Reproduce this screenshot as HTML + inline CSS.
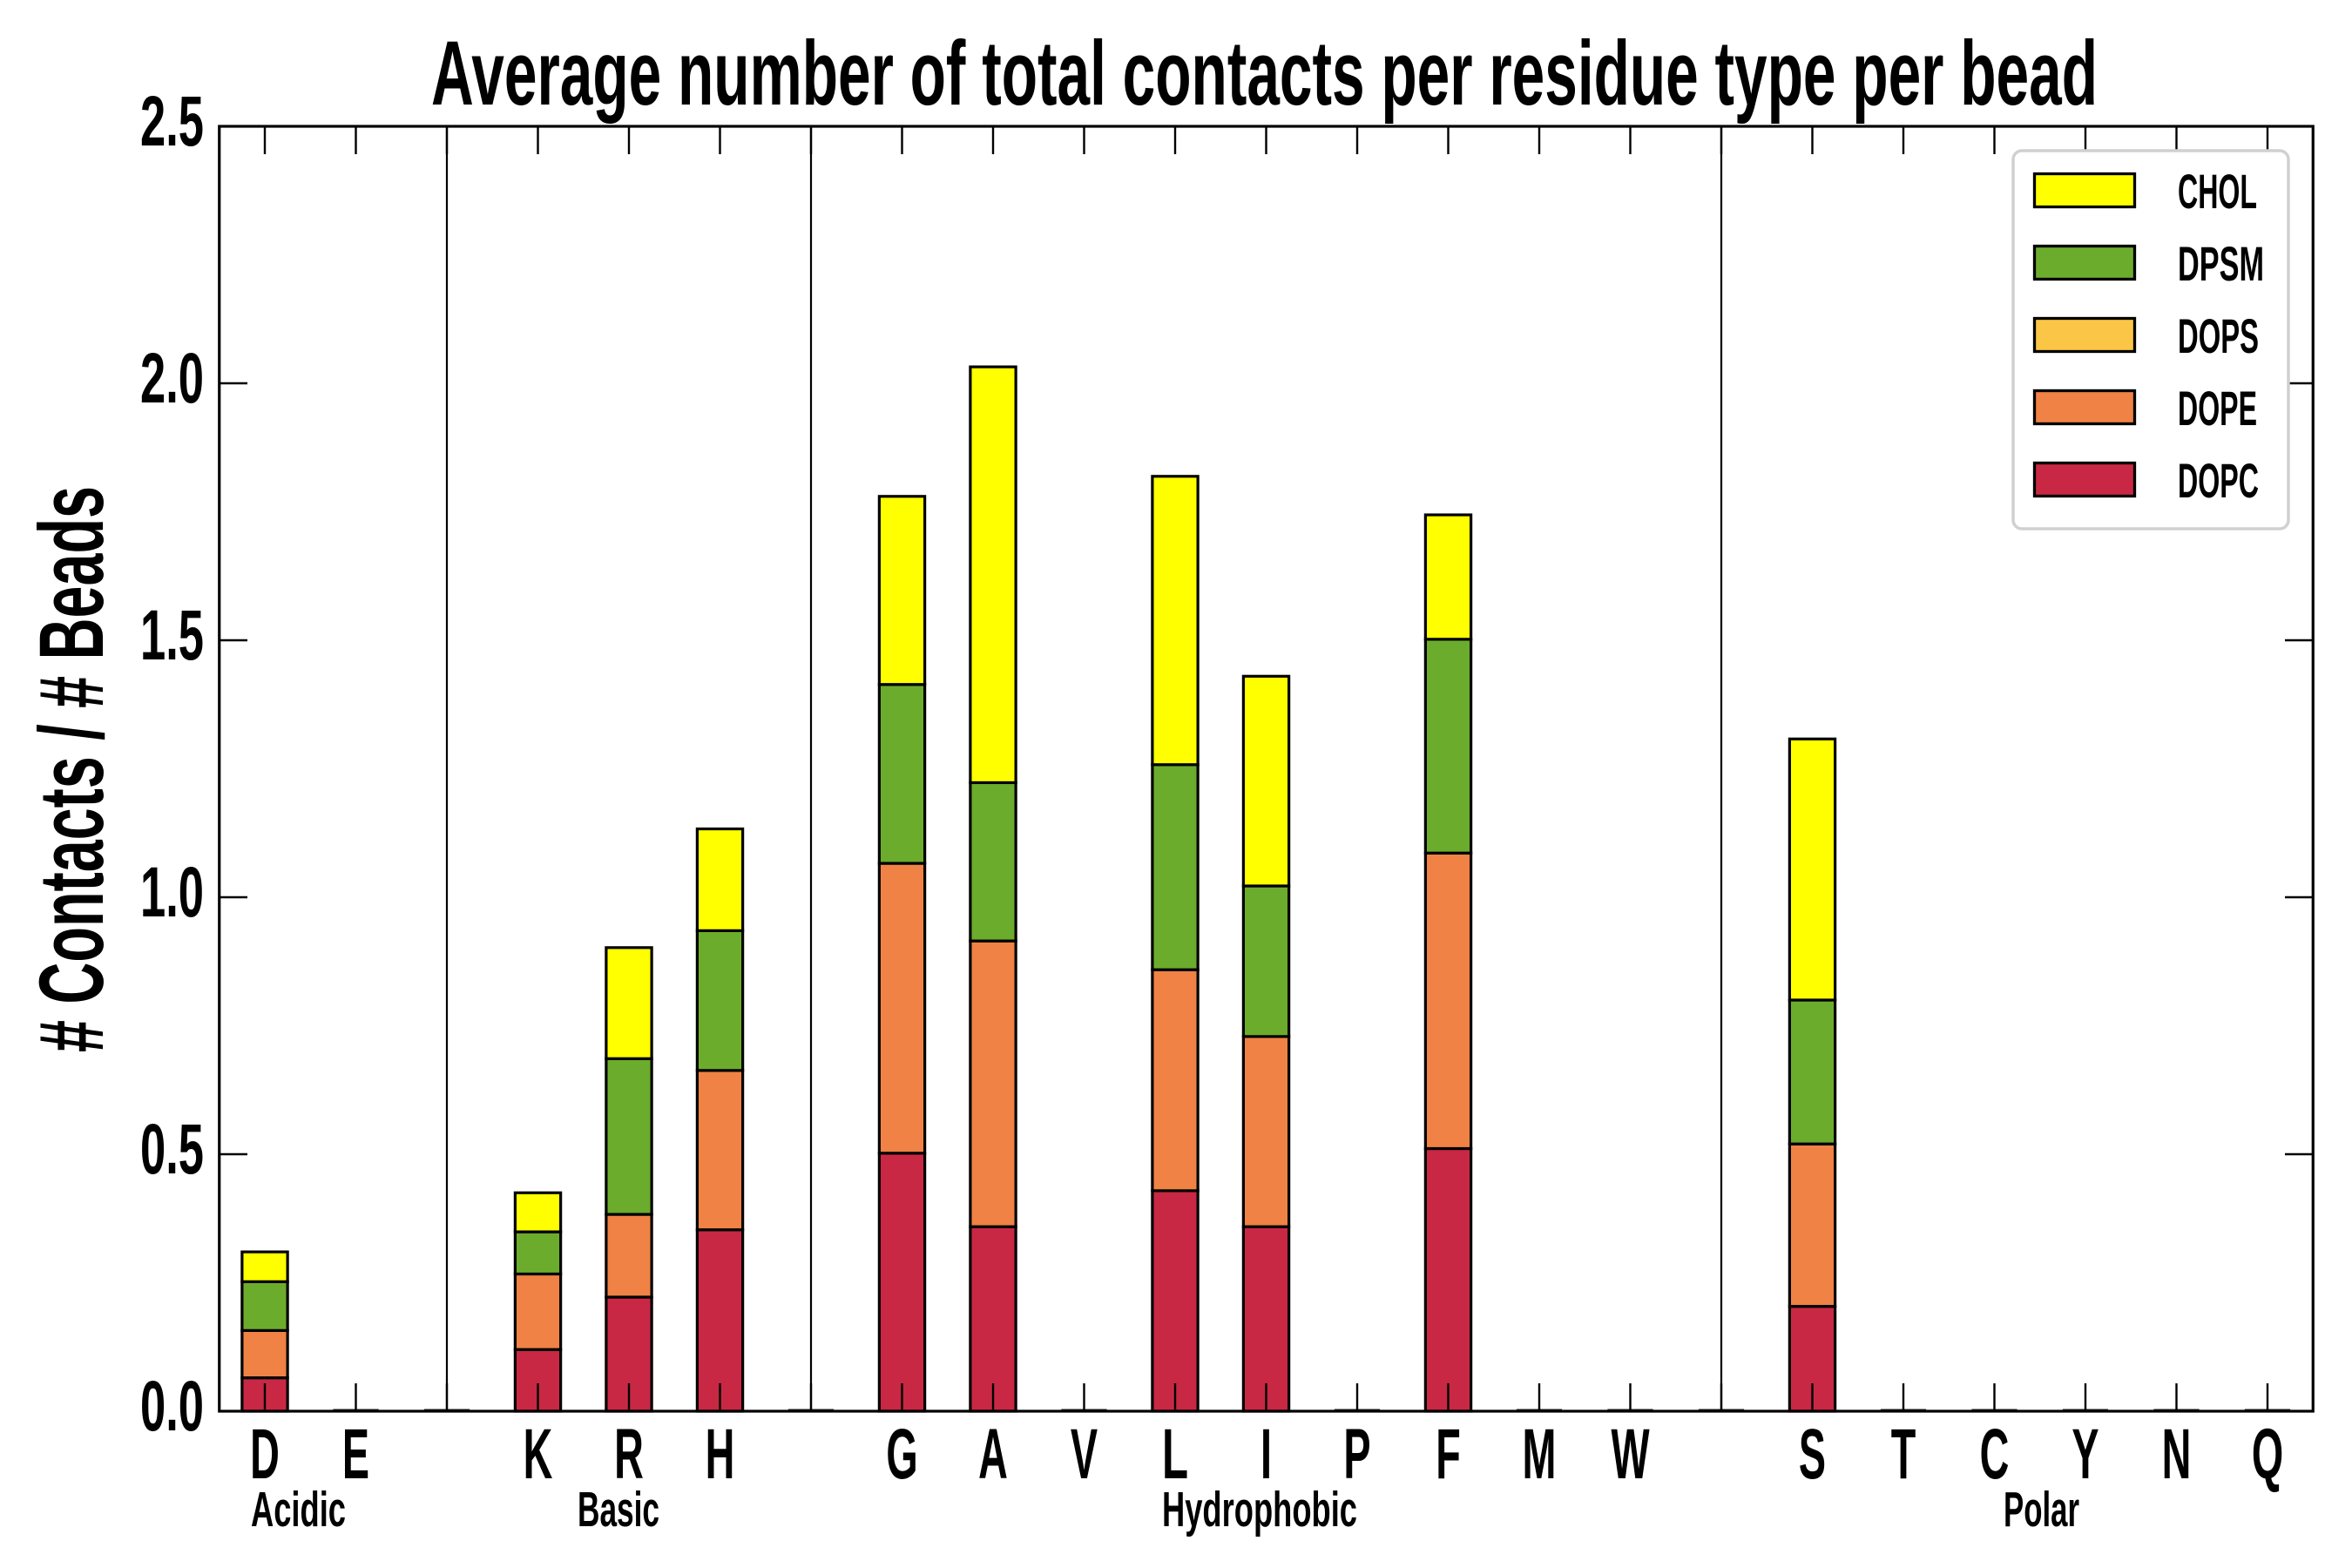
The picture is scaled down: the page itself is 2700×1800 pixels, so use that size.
<!DOCTYPE html>
<html>
<head>
<meta charset="utf-8">
<style>
html,body{margin:0;padding:0;background:#fff;}
body{width:2700px;height:1800px;overflow:hidden;}
svg{display:block;}
text{font-family:"Liberation Sans",Arial,sans-serif;font-weight:bold;fill:#000;}
</style>
</head>
<body>
<svg width="2700" height="1800" viewBox="0 0 2700 1800" xmlns="http://www.w3.org/2000/svg">
<rect x="0" y="0" width="2700" height="1800" fill="#fff"/>

<!-- Title -->
<text x="495" y="120" font-size="105" textLength="1913" lengthAdjust="spacingAndGlyphs">Average number of total contacts per residue type per bead</text>

<!-- Y label -->
<g transform="translate(118,1208) rotate(-90)">
<text x="0" y="0" font-size="105" textLength="650" lengthAdjust="spacingAndGlyphs"># Contacts / # Beads</text>
</g>

<!-- zero-height bars -->
<g stroke="#222" stroke-width="3">
<line x1="382.375" x2="434.625" y1="1619" y2="1619"/>
<line x1="486.875" x2="539.125" y1="1619" y2="1619"/>
<line x1="904.875" x2="957.125" y1="1619" y2="1619"/>
<line x1="1218.375" x2="1270.625" y1="1619" y2="1619"/>
<line x1="1531.875" x2="1584.125" y1="1619" y2="1619"/>
<line x1="1740.875" x2="1793.125" y1="1619" y2="1619"/>
<line x1="1845.375" x2="1897.625" y1="1619" y2="1619"/>
<line x1="1949.875" x2="2002.125" y1="1619" y2="1619"/>
<line x1="2158.875" x2="2211.125" y1="1619" y2="1619"/>
<line x1="2263.375" x2="2315.625" y1="1619" y2="1619"/>
<line x1="2367.875" x2="2420.125" y1="1619" y2="1619"/>
<line x1="2472.375" x2="2524.625" y1="1619" y2="1619"/>
<line x1="2576.875" x2="2629.125" y1="1619" y2="1619"/>
</g>

<!-- Bars -->
<g stroke="#000" stroke-width="3.2">
<!-- D -->
<rect x="277.875" width="52.25" y="1581.65" height="38.35" fill="#c82843"/>
<rect x="277.875" width="52.25" y="1527.37" height="54.28" fill="#ef8244"/>
<rect x="277.875" width="52.25" y="1471.32" height="56.05" fill="#6cac2c"/>
<rect x="277.875" width="52.25" y="1437.1" height="34.22" fill="#ffff00"/>
<!-- K -->
<rect x="591.375" width="52.25" y="1549.2" height="70.8" fill="#c82843"/>
<rect x="591.375" width="52.25" y="1462.47" height="86.73" fill="#ef8244"/>
<rect x="591.375" width="52.25" y="1414.09" height="48.38" fill="#6cac2c"/>
<rect x="591.375" width="52.25" y="1369.25" height="44.84" fill="#ffff00"/>
<!-- R -->
<rect x="695.875" width="52.25" y="1489.02" height="130.98" fill="#c82843"/>
<rect x="695.875" width="52.25" y="1394.03" height="94.99" fill="#ef8244"/>
<rect x="695.875" width="52.25" y="1215.26" height="178.77" fill="#6cac2c"/>
<rect x="695.875" width="52.25" y="1087.82" height="127.44" fill="#ffff00"/>
<!-- H -->
<rect x="800.375" width="52.25" y="1411.73" height="208.27" fill="#c82843"/>
<rect x="800.375" width="52.25" y="1228.83" height="182.9" fill="#ef8244"/>
<rect x="800.375" width="52.25" y="1068.35" height="160.48" fill="#6cac2c"/>
<rect x="800.375" width="52.25" y="951.53" height="116.82" fill="#ffff00"/>
<!-- G -->
<rect x="1009.375" width="52.25" y="1323.82" height="296.18" fill="#c82843"/>
<rect x="1009.375" width="52.25" y="991.06" height="332.76" fill="#ef8244"/>
<rect x="1009.375" width="52.25" y="785.74" height="205.32" fill="#6cac2c"/>
<rect x="1009.375" width="52.25" y="569.8" height="215.94" fill="#ffff00"/>
<!-- A -->
<rect x="1113.875" width="52.25" y="1408.19" height="211.81" fill="#c82843"/>
<rect x="1113.875" width="52.25" y="1080.15" height="328.04" fill="#ef8244"/>
<rect x="1113.875" width="52.25" y="898.43" height="181.72" fill="#6cac2c"/>
<rect x="1113.875" width="52.25" y="421.12" height="477.31" fill="#ffff00"/>
<!-- L -->
<rect x="1322.875" width="52.25" y="1366.89" height="253.11" fill="#c82843"/>
<rect x="1322.875" width="52.25" y="1113.19" height="253.7" fill="#ef8244"/>
<rect x="1322.875" width="52.25" y="877.78" height="235.41" fill="#6cac2c"/>
<rect x="1322.875" width="52.25" y="546.79" height="330.99" fill="#ffff00"/>
<!-- I -->
<rect x="1427.375" width="52.25" y="1408.19" height="211.81" fill="#c82843"/>
<rect x="1427.375" width="52.25" y="1189.89" height="218.3" fill="#ef8244"/>
<rect x="1427.375" width="52.25" y="1017.02" height="172.87" fill="#6cac2c"/>
<rect x="1427.375" width="52.25" y="776.3" height="240.72" fill="#ffff00"/>
<!-- F -->
<rect x="1636.375" width="52.25" y="1318.51" height="301.49" fill="#c82843"/>
<rect x="1636.375" width="52.25" y="979.26" height="339.25" fill="#ef8244"/>
<rect x="1636.375" width="52.25" y="733.82" height="245.44" fill="#6cac2c"/>
<rect x="1636.375" width="52.25" y="591.04" height="142.78" fill="#ffff00"/>
<!-- S -->
<rect x="2054.375" width="52.25" y="1499.64" height="120.36" fill="#c82843"/>
<rect x="2054.375" width="52.25" y="1313.2" height="186.44" fill="#ef8244"/>
<rect x="2054.375" width="52.25" y="1148" height="165.2" fill="#6cac2c"/>
<rect x="2054.375" width="52.25" y="848.28" height="299.72" fill="#ffff00"/>
</g>

<!-- Group separators -->
<g stroke="#000" stroke-width="2.2">
<line x1="513" x2="513" y1="145" y2="1620"/>
<line x1="931" x2="931" y1="145" y2="1620"/>
<line x1="1976" x2="1976" y1="145" y2="1620"/>
</g>

<!-- Ticks -->
<g stroke="#000" stroke-width="2.4">
<!-- bottom x ticks -->
<path d="M304 1620V1588M408.5 1620V1588M513 1620V1588M617.5 1620V1588M722 1620V1588M826.5 1620V1588M931 1620V1588M1035.5 1620V1588M1140 1620V1588M1244.5 1620V1588M1349 1620V1588M1453.5 1620V1588M1558 1620V1588M1662.5 1620V1588M1767 1620V1588M1871.5 1620V1588M1976 1620V1588M2080.5 1620V1588M2185 1620V1588M2289.5 1620V1588M2394 1620V1588M2498.5 1620V1588M2603 1620V1588"/>
<!-- top x ticks -->
<path d="M304 145V177M408.5 145V177M513 145V177M617.5 145V177M722 145V177M826.5 145V177M931 145V177M1035.5 145V177M1140 145V177M1244.5 145V177M1349 145V177M1453.5 145V177M1558 145V177M1662.5 145V177M1767 145V177M1871.5 145V177M1976 145V177M2080.5 145V177M2185 145V177M2289.5 145V177M2394 145V177M2498.5 145V177M2603 145V177"/>
<!-- y ticks left/right -->
<path d="M252 1325H284M252 1030H284M252 735H284M252 440H284M2655 1325H2623M2655 1030H2623M2655 735H2623M2655 440H2623"/>
</g>

<!-- Spines -->
<rect x="251.75" y="145" width="2403.5" height="1475" fill="none" stroke="#000" stroke-width="3.2"/>

<!-- Y tick labels -->
<g font-size="82">
<text x="161" y="1642" textLength="73" lengthAdjust="spacingAndGlyphs">0.0</text>
<text x="161" y="1347" textLength="73" lengthAdjust="spacingAndGlyphs">0.5</text>
<text x="161" y="1052" textLength="73" lengthAdjust="spacingAndGlyphs">1.0</text>
<text x="161" y="757" textLength="73" lengthAdjust="spacingAndGlyphs">1.5</text>
<text x="161" y="462" textLength="73" lengthAdjust="spacingAndGlyphs">2.0</text>
<text x="161" y="167" textLength="73" lengthAdjust="spacingAndGlyphs">2.5</text>
</g>

<!-- X tick labels -->
<g font-size="82" text-anchor="middle">
<text transform="translate(304,1697) scale(0.57,1)">D</text>
<text transform="translate(408.5,1697) scale(0.57,1)">E</text>
<text transform="translate(617.5,1697) scale(0.57,1)">K</text>
<text transform="translate(722,1697) scale(0.57,1)">R</text>
<text transform="translate(826.5,1697) scale(0.57,1)">H</text>
<text transform="translate(1035.5,1697) scale(0.57,1)">G</text>
<text transform="translate(1140,1697) scale(0.57,1)">A</text>
<text transform="translate(1244.5,1697) scale(0.57,1)">V</text>
<text transform="translate(1349,1697) scale(0.6,1)">L</text>
<text transform="translate(1453.5,1697) scale(0.57,1)">I</text>
<text transform="translate(1558,1697) scale(0.57,1)">P</text>
<text transform="translate(1662.5,1697) scale(0.57,1)">F</text>
<text transform="translate(1767,1697) scale(0.57,1)">M</text>
<text transform="translate(1871.5,1697) scale(0.57,1)">W</text>
<text transform="translate(2080.5,1697) scale(0.57,1)">S</text>
<text transform="translate(2185,1697) scale(0.57,1)">T</text>
<text transform="translate(2289.5,1697) scale(0.57,1)">C</text>
<text transform="translate(2394,1697) scale(0.57,1)">Y</text>
<text transform="translate(2498.5,1697) scale(0.57,1)">N</text>
<text transform="translate(2603,1697) scale(0.57,1)">Q</text>
</g>

<!-- Group labels -->
<g font-size="57">
<text x="288" y="1752" textLength="109" lengthAdjust="spacingAndGlyphs">Acidic</text>
<text x="663" y="1752" textLength="94" lengthAdjust="spacingAndGlyphs">Basic</text>
<text x="1334" y="1752" textLength="224" lengthAdjust="spacingAndGlyphs">Hydrophobic</text>
<text x="2300" y="1752" textLength="87" lengthAdjust="spacingAndGlyphs">Polar</text>
</g>

<!-- Legend -->
<rect x="2311" y="173" width="316" height="434" rx="10" ry="10" fill="#fff" stroke="#d0d0d0" stroke-width="3.5"/>
<g stroke="#000" stroke-width="3.3">
<rect x="2335.5" y="199.5" width="115" height="38" fill="#ffff00"/>
<rect x="2335.5" y="282.5" width="115" height="38" fill="#6cac2c"/>
<rect x="2335.5" y="365.5" width="115" height="38" fill="#fbc646"/>
<rect x="2335.5" y="448.5" width="115" height="38" fill="#ef8244"/>
<rect x="2335.5" y="531.5" width="115" height="38" fill="#c82843"/>
</g>
<g font-size="56">
<text x="2500" y="239" textLength="91" lengthAdjust="spacingAndGlyphs">CHOL</text>
<text x="2500" y="322" textLength="99" lengthAdjust="spacingAndGlyphs">DPSM</text>
<text x="2500" y="405" textLength="93" lengthAdjust="spacingAndGlyphs">DOPS</text>
<text x="2500" y="488" textLength="91" lengthAdjust="spacingAndGlyphs">DOPE</text>
<text x="2500" y="571" textLength="93" lengthAdjust="spacingAndGlyphs">DOPC</text>
</g>
</svg>
</body>
</html>
